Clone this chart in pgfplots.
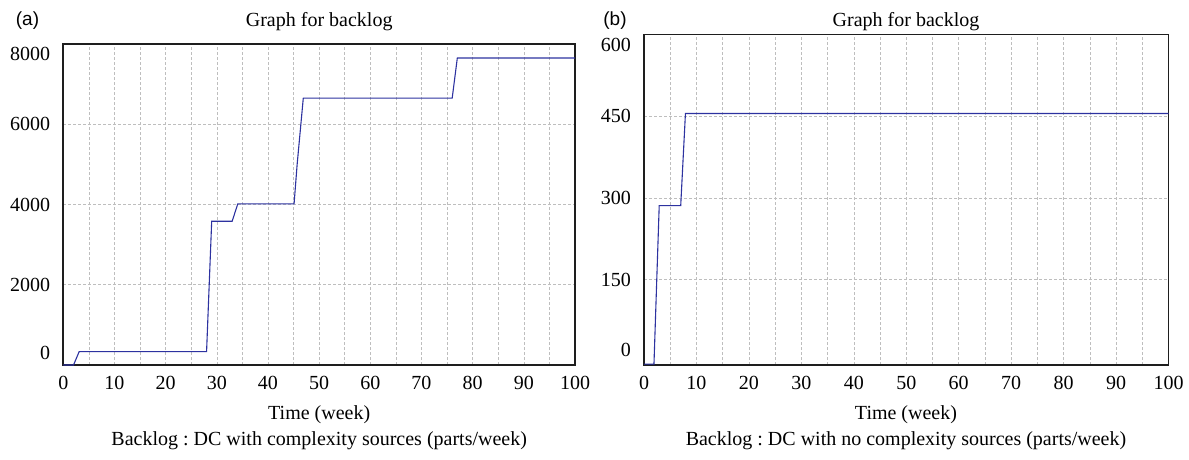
\documentclass[border=0pt]{standalone}
\usepackage{fontspec}
\setmainfont{Liberation Serif}
\newfontfamily\panelfont{Liberation Sans}
\newfontfamily\numfont{Liberation Serif}
\usepackage{pgfplots}
\pgfplotsset{compat=1.18}
\frenchspacing
\definecolor{linecol}{RGB}{45,50,160}
\definecolor{gridcol}{RGB}{190,190,190}
\definecolor{framecol}{RGB}{30,30,30}
\pgfplotsset{vensim/.style={
  scale only axis,
  anchor=south west,
  axis line style={framecol, line width=1.7pt},
  xmin=0, xmax=100,
  xtick={0,10,...,100}, minor xtick={5,15,...,95},
  xticklabels={0,10,20,30,40,50,60,70,80,90,100},
  grid=both,
  grid style={gridcol, dash pattern=on 3pt off 2pt, line width=0.6pt},
  minor grid style={gridcol, dash pattern=on 3pt off 2pt, line width=0.6pt},
  major tick length=0pt, minor tick length=0pt,
  tick label style={font=\numfont\fontsize{20}{24}\selectfont},
  /pgf/number format/assume math mode=true,
  /pgf/number format/1000 sep={},
  scaled ticks=false,
  xticklabel style={anchor=north, inner sep=0pt, yshift=-11pt},
  yticklabel style={anchor=east, inner sep=0pt, xshift=-13pt},
  extra y tick style={grid=none},
}}
\begin{document}
\begin{tikzpicture}
\useasboundingbox (0,0) rectangle (1189pt,-460pt);
% (a)
\begin{axis}[vensim,
  at={(63.3pt,-365pt)}, width=511.7pt, height=321pt,
  ymin=0, ymax=8000,
  ytick={2000,4000,6000}, yticklabels={2000,4000,6000},
  extra y ticks={300,7750}, extra y tick labels={0,8000}]
\addplot[linecol, line width=1.1pt] coordinates {
(0,0) (2,0) (3.1,333) (28,333) (29,3583) (33,3583) (34.1,4017)
(45.1,4017) (45.7,5000) (46.9,6650) (76,6650) (77,7650) (100,7650)};
\end{axis}
% (b)
\begin{axis}[vensim,
  at={(644pt,-365pt)}, width=524.5pt, height=330.5pt,
  ymin=-6.6, ymax=600,
  ytick={150,300,450}, yticklabels={150,300,450},
  extra y ticks={21.5,581.7}, extra y tick labels={0,600}]
\addplot[linecol, line width=1.1pt] coordinates {
(0,-5) (1.9,-5) (2.9,286) (7.0,286) (7.9,455) (100,455)};
\end{axis}
\begin{scope}[every node/.style={font=\numfont\fontsize{20}{24}\selectfont}]
\node[anchor=base] at (319.2pt,-26.5pt) {Graph for backlog};
\node[anchor=base] at (906pt,-26.5pt) {Graph for backlog};
\node[font=\panelfont\fontsize{19}{23}\selectfont] at (27.5pt,-20.5pt) {(a)};
\node[font=\panelfont\fontsize{19}{23}\selectfont] at (615pt,-20.5pt) {(b)};
\node at (319.2pt,-415pt) {Time (week)};
\node at (319.2pt,-441pt) {Backlog : DC with complexity sources (parts/week)};
\node at (906pt,-415pt) {Time (week)};
\node at (906pt,-441pt) {Backlog : DC with no complexity sources (parts/week)};
\end{scope}
\end{tikzpicture}
\end{document}
